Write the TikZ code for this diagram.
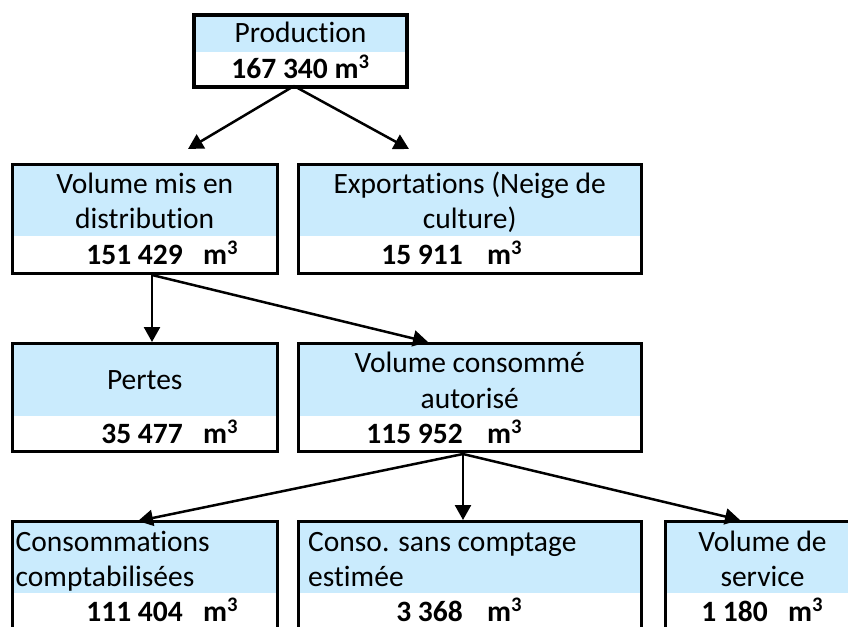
\documentclass[tikz,border=0pt]{standalone}
\usepackage{fontspec}
\setmainfont{Carlito}[Ligatures={NoCommon}]
\usetikzlibrary{arrows.meta,backgrounds}
\definecolor{lblue}{RGB}{202,235,253}
\newcommand{\fsz}{\fontsize{29.5}{35}\selectfont}
\tikzset{
  box/.style={draw, line width=3pt, inner sep=0pt, outer sep=0pt, anchor=north west},
  conn/.style={line width=2.5pt, -{Triangle[length=15pt,width=16pt]}},
  lbl/.style={anchor=base, inner sep=0pt, font=\fsz},
  lbll/.style={anchor=base west, inner sep=0pt, font=\fsz},
  num/.style={anchor=base east, inner sep=0pt, text depth=0pt, font=\fsz\bfseries},
  unit/.style={anchor=base west, inner sep=0pt, text depth=0pt, font=\fsz\bfseries},
}
\begin{document}
\begin{tikzpicture}[x=1pt,y=-1pt]
\useasboundingbox (0,0) rectangle (848,626);
\clip (0,0) rectangle (848,626);

% boxes
\node[box, line width=3.6pt, minimum width=213pt, minimum height=72pt] (prod) at (194,15) {};
\node[box, minimum width=265.5pt, minimum height=109pt] (dist) at (12,164) {};
\node[box, minimum width=343.5pt, minimum height=109pt] (exp) at (298,164) {};
\node[box, minimum width=265.5pt, minimum height=108.5pt] (pertes) at (12,343) {};
\node[box, minimum width=343.5pt, minimum height=108.5pt] (auto) at (298,343) {};
\node[box, minimum width=265.5pt, minimum height=130pt] (cc) at (12,521.5) {};
\node[box, minimum width=343.5pt, minimum height=130pt] (csc) at (298,521.5) {};
\node[box, minimum width=195pt, minimum height=130pt] (vs) at (665,521.5) {};

\begin{scope}[on background layer]
  \fill[white] (0,0) rectangle (848,626);
  \fill[lblue] (prod.north west) rectangle ([yshift=-37pt]prod.north east);
  \fill[lblue] (dist.north west) rectangle ([yshift=-72pt]dist.north east);
  \fill[lblue] (exp.north west) rectangle ([yshift=-72pt]exp.north east);
  \fill[lblue] (pertes.north west) rectangle ([yshift=-73pt]pertes.north east);
  \fill[lblue] (auto.north west) rectangle ([yshift=-73pt]auto.north east);
  \fill[lblue] (cc.north west) rectangle ([yshift=-71.5pt]cc.north east);
  \fill[lblue] (csc.north west) rectangle ([yshift=-71.5pt]csc.north east);
  \fill[lblue] (vs.north west) rectangle ([yshift=-71.5pt]vs.north east);
\end{scope}

% texts
\node[lbl] (prodT) at (300.5,43) {Production};
\node[lbl, font=\fsz\bfseries] (prodN) at (300.5,78) {167 340 m\textsuperscript{3}};

\node[lbl] (distT1) at (144.75,193) {Volume mis en};
\node[lbl] (distT2) at (144.75,228) {distribution};
\node[num] (distN) at (183,264) {151 429};
\node[unit] (distU) at (203,264) {m\textsuperscript{3}};

\node[lbl] (expT1) at (469.75,193) {Exportations (Neige de};
\node[lbl] (expT2) at (469.75,228) {culture)};
\node[num] (expN) at (463,264) {15 911};
\node[unit] (expU) at (487,264) {m\textsuperscript{3}};

\node[lbl] (pertesT) at (144.75,389) {Pertes};
\node[num] (pertesN) at (183,443) {35 477};
\node[unit] (pertesU) at (203,443) {m\textsuperscript{3}};

\node[lbl] (autoT1) at (469.75,372) {Volume consommé};
\node[lbl] (autoT2) at (469.75,408) {autorisé};
\node[num] (autoN) at (463,443) {115 952};
\node[unit] (autoU) at (487,443) {m\textsuperscript{3}};

\node[lbll] (ccT1) at (15.5,551) {Consommations};
\node[lbll] (ccT2) at (15.5,586) {comptabilisées};
\node[num] (ccN) at (183,621) {111 404};
\node[unit] (ccU) at (203,621) {m\textsuperscript{3}};

\node[lbll] (cscT1) at (308,551) {Conso. sans comptage};
\node[lbll] (cscT2) at (308,586) {estimée};
\node[num] (cscN) at (463,621) {3 368};
\node[unit] (cscU) at (487,621) {m\textsuperscript{3}};

\node[lbl] (vsT1) at (762.5,551) {Volume de};
\node[lbl] (vsT2) at (762.5,586) {service};
\node[num] (vsN) at (768,621) {1 180};
\node[unit] (vsU) at (788,621) {m\textsuperscript{3}};

% connector ends
\coordinate (o1) at (294,86);
\coordinate (t1) at (188,149);
\coordinate (t2) at (409,149);
\coordinate (o2) at (152,275);
\coordinate (t3) at (152,342);
\coordinate (t4) at (428,342);
\coordinate (o3) at (463,454);
\coordinate (t5) at (138,521);
\coordinate (t6) at (463,520);
\coordinate (t7) at (740,520);

\draw[conn] (o1) -- (t1);
\draw[conn] (o1) -- (t2);
\draw[conn] (o2) -- (t3);
\draw[conn] (o2) -- (t4);
\draw[conn] (o3) -- (t5);
\draw[conn] (o3) -- (t6);
\draw[conn] (o3) -- (t7);
\end{tikzpicture}
\end{document}
